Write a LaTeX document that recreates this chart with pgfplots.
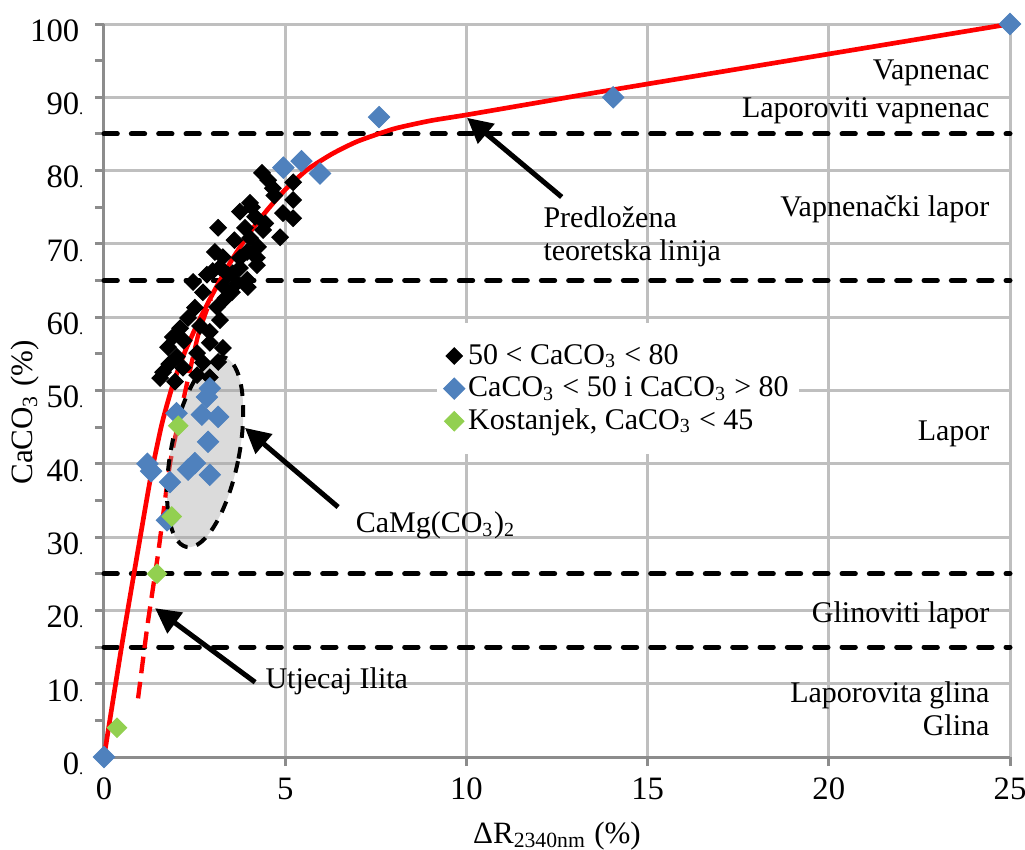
\documentclass[border=0pt]{standalone}
\usepackage{fontspec}
\setmainfont{Liberation Serif}
\usepackage{pgfplots}
\pgfplotsset{compat=1.18}
\usetikzlibrary{arrows.meta}
\definecolor{xblue}{RGB}{79,129,189}
\definecolor{xgreen}{RGB}{146,208,80}
\definecolor{gridc}{RGB}{191,191,191}
\definecolor{axc}{RGB}{140,140,140}
\definecolor{xred}{RGB}{255,0,0}
\newcommand{\dt}{\rlap{\fontsize{5}{5}\selectfont .}}
\begin{document}
\begin{tikzpicture}
\begin{axis}[name=ax, set layers,
  scale only axis, width=271.8pt, height=219.9pt,
  xmin=0, xmax=25, ymin=0, ymax=100,
  axis x line*=bottom, axis y line*=left,
  axis line style={axc, line width=0.9pt},
  xtick={0,5,...,25}, xticklabels={0,5,10,15,20,25},
  ytick={0,10,...,100},
  yticklabels={0\dt,10\dt,20\dt,30\dt,40\dt,50\dt,60\dt,70\dt,80\dt,90\dt,100},
  minor ytick={5,15,...,95},
  grid=major, major grid style={gridc, line width=0.9pt},
  tick align=outside, major tick length=2.7pt, minor tick length=2.7pt,
  tick style={axc, line width=0.9pt},
  ticklabel style={font=\fontsize{9.8}{11}\selectfont, black},
  yticklabel style={yshift=-2pt, xshift=-1.2pt},
  clip=false,
  label style={font=\fontsize{9.3}{11}\selectfont},
  xlabel={ΔR\textsubscript{2340nm} (\%)},
  ylabel={CaCO\textsubscript{3} (\%)},
  xlabel style={at={(axis description cs:0.5,0)}, anchor=base, yshift=-25.8pt},
  ylabel style={at={(axis description cs:-0.0784,0.47)}, anchor=base, rotate=0},
  legend style={at={(axis cs:9.17,59.3)}, anchor=north west, fill=white, draw=none,
    font=\fontsize{9}{10}\selectfont, inner xsep=2pt, inner ysep=5pt, row sep=0pt,
    nodes={inner sep=1pt, text height=6.3pt, text depth=1.5pt}},
  legend cell align=left,
  legend image code/.code={\draw[#1] plot coordinates {(0.12cm,0cm)};},
]
% boundary dashed lines
\addplot[forget plot, black, line width=1.5pt, line cap=round, dash pattern=on 4pt off 4.2pt] coordinates {(0,15) (25,15)};
\addplot[forget plot, black, line width=1.5pt, line cap=round, dash pattern=on 4pt off 4.2pt] coordinates {(0,25) (25,25)};
\addplot[forget plot, black, line width=1.5pt, line cap=round, dash pattern=on 4pt off 4.2pt] coordinates {(0,65) (25,65)};
\addplot[forget plot, black, line width=1.5pt, line cap=round, dash pattern=on 4pt off 4.2pt] coordinates {(0,85) (25,85)};

% 50 < CaCO3 < 80
\addplot[only marks, mark=square*, mark size=1.75pt, mark options={rotate=45, draw=black, line width=0.3pt, fill=black}] coordinates {
(4.36,79.7)(4.53,78.7)(4.66,77.6)(5.22,78.4)(5.22,76.0)(4.94,74.2)(5.22,73.5)(4.03,75.6)
(3.75,74.4)(4.17,73.7)(3.15,72.2)(3.89,72.2)(4.39,71.9)(4.86,70.9)(4.03,70.8)(4.25,69.6)
(3.95,68.9)(3.06,68.9)(3.28,68.2)(3.75,68.1)(4.22,68.1)(3.2,66.8)(3.75,66.7)(4.22,67.1)
(3.42,65.8)(2.84,65.8)(2.46,64.8)(3.95,65.1)(3.67,64.7)(2.73,63.4)(3.53,63.4)(3.97,64.1)
(2.51,61.3)(3.12,61.4)(2.32,59.9)(3.2,59.6)(2.1,58.5)(2.92,58.0)(1.9,57.3)(2.92,56.5)
(1.77,55.9)(3.28,55.8)(2.57,55.1)(2.01,54.6)(2.73,53.8)(1.63,52.5)(1.55,51.7)(2.57,52.1)
(1.96,51.2)(2.18,53.1)(3.15,53.9)(2.92,51.8)(4.08,75.0)
(3.6,70.5)(3.35,62.6)(2.2,56.8)(1.8,53.6)(3.0,66.3)(3.55,66.0)(4.7,76.6)(3.3,64.2)(2.65,58.8)(4.45,72.8)
};
\addlegendentry{50 < CaCO\textsubscript{3} < 80}

% CaCO3 < 50 i CaCO3 > 80
\addplot[only marks, mark=square*, mark size=2.25pt, mark options={rotate=45, draw=xblue, line width=0.3pt, fill=xblue}] coordinates {
(0,0)(25,100)(14.05,90)(7.59,87.3)(4.95,80.4)(5.45,81.3)(5.96,79.6)
(1.2,40)(1.3,39)(1.82,37.5)(1.74,32.3)(2.0,46.9)
(2.92,50.3)(2.84,49.1)(2.7,46.7)(3.15,46.4)(2.87,43.0)(2.51,40.1)(2.32,39.2)(2.92,38.5)
};
\addlegendentry{CaCO\textsubscript{3} < 50 i CaCO\textsubscript{3} > 80}

% Kostanjek
\addplot[only marks, mark=square*, mark size=2.05pt, mark options={rotate=45, draw=xgreen, line width=0.3pt, fill=xgreen}] coordinates {
(0.36,4.0)(1.46,25.0)(1.87,32.8)(2.05,45.2)
};
\addlegendentry{Kostanjek, CaCO\textsubscript{3} < 45}

% proposed theoretical line
\addplot[forget plot, xred, line width=1.4pt, smooth, tension=0.35] coordinates {
(0,0)(0.5,15.5)(1.0,30)(1.3,38.5)(1.6,45.5)(1.9,50.8)(2.25,55.5)(2.6,59.3)(3.0,63.2)
(3.5,67.6)(4.0,71.4)(4.5,74.6)(5.0,77.4)(5.6,80.1)(6.3,82.3)(7.0,84)(8.0,85.7)
(9.0,86.8)(10,87.6)(12,89.3)(14,91)(25,100)
};
% illite influence (dashed)
\addplot[forget plot, xred, line width=1.3pt, dash pattern=on 5pt off 2.6pt, smooth, tension=0.3] coordinates {
(0.94,8)(1.2,18)(1.5,28)(1.82,40)(2.18,48.5)(2.6,57.6)(2.95,62.5)
};

% ellipse CaMg(CO3)2 (semi-transparent, over the marks)
\draw[on layer=axis foreground, black, line width=1.2pt, dash pattern=on 3.5pt off 2.8pt, fill=black!36, fill opacity=0.39,
  rotate around={-11:(axis cs:2.79,41.6)}] (axis cs:2.79,41.6) ellipse [x radius=10.2pt, y radius=29pt];

% arrows
\draw[on layer=axis foreground, black, line width=1.5pt, -{Triangle[length=7.5pt,width=7.5pt]}] (axis cs:12.63,76.4) -- (axis cs:10.02,87.2);
\draw[on layer=axis foreground, black, line width=1.5pt, -{Triangle[length=7.5pt,width=7.5pt]}] (axis cs:6.46,34.1) -- (axis cs:3.89,44.9);
\draw[on layer=axis foreground, black, line width=1.5pt, -{Triangle[length=7.5pt,width=7.5pt]}] (axis cs:4.17,10.2) -- (axis cs:1.41,20.3);

% annotations
\begin{scope}[font=\fontsize{9}{10.5}\selectfont, inner sep=0pt]
\node[anchor=base west] at (axis cs:12.11,72.3) {Predložena};
\node[anchor=base west] at (axis cs:12.11,67.8) {teoretska linija};
\node[anchor=base west] at (axis cs:6.93,30.6) {CaMg(CO\textsubscript{3})\textsubscript{2}};
\node[anchor=base west] at (axis cs:4.44,9.4) {Utjecaj Ilita};
\node[anchor=base east] at (axis cs:24.45,92.4) {Vapnenac};
\node[anchor=base east] at (axis cs:24.45,87.3) {Laporoviti vapnenac};
\node[anchor=base east] at (axis cs:24.45,73.7) {Vapnenački lapor};
\node[anchor=base east] at (axis cs:24.45,43.2) {Lapor};
\node[anchor=base east] at (axis cs:24.45,18.4) {Glinoviti lapor};
\node[anchor=base east] at (axis cs:24.45,7.5) {Laporovita glina};
\node[anchor=base east] at (axis cs:24.45,3.0) {Glina};
\end{scope}
\coordinate (v1) at (axis cs:10,41);
\coordinate (v2) at (axis cs:10,60);
\end{axis}
\draw[gridc, line width=0.9pt] (v1) -- (v2);
\pgfresetboundingbox
\path[use as bounding box] ([shift={(-31.2pt,-27.6pt)}]ax.south west) rectangle ([shift={(4.5pt,7.2pt)}]ax.north east);
\end{tikzpicture}
\end{document}
